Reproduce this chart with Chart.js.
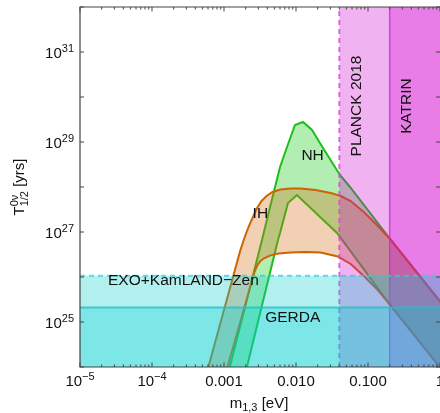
<!DOCTYPE html>
<html>
<head>
<meta charset="utf-8">
<script src="https://cdn.jsdelivr.net/npm/chart.js@4/dist/chart.umd.min.js"></script>
<style>
  html, body { margin: 0; padding: 0; background: #fff; }
</style>
</head>
<body>
<canvas id="chart" width="440" height="413"></canvas>
<script>
// lightest neutrino mass m_1,3 [eV] and half-life [yrs] along the band edges
var nhUpperMass = [1.12e-3, 3.37e-3, 4.36e-3, 6.0e-3, 7.5e-3, 9.68e-3, 1.25e-2, 1.67e-2, 2.15e-2, 4.08e-2, 5.62e-2, 0.208, 1.122];
var nhUpperLife = [6.31e23, 6.64e26, 3.60e27, 2.78e28, 7.74e28, 2.39e29, 2.78e29, 1.85e29, 9.51e28, 1.85e28, 1.0e28, 6.64e26, 2.28e25];
var nhLowerMass = [1.94e-3, 5.62e-3, 6.0e-3, 7.74e-3, 1.03e-2, 3.71e-2, 0.208, 1.122];
var nhLowerLife = [6.31e23, 6.64e26, 9.51e26, 4.41e27, 6.64e27, 9.51e26, 2.27e25, 7.8e23];

var ihUpperMass = [5.61e-4, 1.69e-3, 1.92e-3, 2.19e-3, 2.49e-3, 2.83e-3, 3.32e-3, 3.90e-3, 4.72e-3, 6.11e-3, 8.41e-3, 1.16e-2,
    1.88e-2, 3.03e-2, 4.18e-2, 5.75e-2, 8.74e-2, 0.137, 0.208, 1.122];
var ihUpperLife = [6.31e23, 3.98e26, 7.36e26, 1.29e27, 2.05e27, 3.24e27, 4.89e27, 6.31e27, 7.74e27, 8.80e27, 9.27e27, 9.27e27,
    8.58e27, 7.36e27, 6.31e27, 4.89e27, 2.78e27, 1.36e27, 6.64e26, 2.28e25];
var ihLowerMass = [1.03e-3, 2.65e-3, 2.92e-3, 3.21e-3, 3.66e-3, 4.43e-3, 5.72e-3, 8.41e-3, 1.36e-2, 2.20e-2, 3.80e-2, 5.75e-2,
    8.74e-2, 0.137, 0.208, 1.122];
var ihLowerLife = [6.31e23, 1.29e26, 1.85e26, 2.27e26, 2.64e26, 3.03e26, 3.33e26, 3.50e26, 3.60e26, 3.50e26, 2.86e26, 1.95e26,
    1.05e26, 5.14e25, 2.27e25, 7.8e23];

// experimental bounds
var massLimits = [0.04, 0.2];         // Planck 2018, KATRIN [eV]
var lifeLimits = [1.07e26, 2.1e25];   // EXO+KamLAND-Zen, GERDA [yrs]

// axes
var xRange = [1e-5, 1];
var yRange = [1e24, 1e32];
var xTickValues = [1e-5, 1e-4, 1e-3, 1e-2, 1e-1, 1];
var xTickText = ['10^\u22125', '10^\u22124', '0.001', '0.010', '0.100', '1'];
var yTickValues = [1e25, 1e27, 1e29, 1e31];
var yTickText = ['10^25', '10^27', '10^29', '10^31'];

var fam = '"Liberation Sans", Arial, Helvetica, sans-serif';
var FLOOR = 1e23, ROOF = 1e33, FAR_L = 1e-6, FAR_R = 10;

function pts(ms, ts) {
    return ms.map(function (m, i) { return {x: m, y: ts[i]}; });
}

// closed outline: upper edge, then lower edge back, then a corner below the plot
function band(um, ut, lm, lt) {
    var p = pts(um, ut).concat(pts(lm, lt).reverse());
    p.push({x: FAR_R, y: FLOOR});
    return p;
}

function font(px) { return px + 'px ' + fam; }

function drawRich(ctx, text, x, y, align, size, supSize) {
    var parts = text.split('^');
    ctx.font = font(size);
    var w0 = ctx.measureText(parts[0]).width;
    var w1 = 0;
    if (parts[1]) { ctx.font = font(supSize); w1 = ctx.measureText(parts[1]).width; }
    var w = w0 + w1;
    var sx = align === 'right' ? x - w : (align === 'center' ? x - w / 2 : x);
    ctx.textAlign = 'left';
    ctx.textBaseline = 'alphabetic';
    ctx.font = font(size);
    ctx.fillText(parts[0], sx, y);
    if (parts[1]) {
        ctx.font = font(supSize);
        ctx.fillText(parts[1], sx + w0, y - 6);
    }
}

var notes = [
    {text: 'NH', m: 0.017, t: 4.9e28, align: 'center'},
    {text: 'IH', m: 3.2e-3, t: 2.5e27, align: 'center'},
    {text: 'EXO+KamLAND\u2212Zen', m: 2.45e-5, t: 8.1e25, align: 'left'},
    {text: 'GERDA', m: 9.0e-3, t: 1.23e25, align: 'center'},
    {text: 'PLANCK 2018', m: 0.0698, t: 6.3e29, align: 'center', rotate: true},
    {text: 'KATRIN', m: 0.347, t: 6.3e29, align: 'center', rotate: true}
];

var decorations = {
    id: 'decorations',
    afterDraw: function (chart) {
        var ctx = chart.ctx, a = chart.chartArea;
        var xs = chart.scales.x, ys = chart.scales.y;
        ctx.save();
        ctx.fillStyle = '#111';

        // text inside the plot
        notes.forEach(function (n) {
            var px = xs.getPixelForValue(n.m), py = ys.getPixelForValue(n.t);
            ctx.save();
            ctx.font = font(15.5);
            ctx.textBaseline = 'middle';
            ctx.textAlign = n.align;
            ctx.translate(px, py);
            if (n.rotate) ctx.rotate(-Math.PI / 2);
            ctx.fillText(n.text, 0, 0);
            ctx.restore();
        });

        // frame (right edge sits on the canvas border)
        ctx.strokeStyle = '#444';
        ctx.lineWidth = 1.2;
        ctx.beginPath();
        ctx.moveTo(a.right + 2, a.top);
        ctx.lineTo(a.left, a.top);
        ctx.lineTo(a.left, a.bottom);
        ctx.lineTo(a.right + 2, a.bottom);
        ctx.stroke();

        // inward ticks
        ctx.lineWidth = 1;
        ctx.beginPath();
        for (var e = -5; e <= 0; e++) {
            for (var k = 1; k <= 9; k++) {
                var v = k * Math.pow(10, e);
                if (v > 1.0001) break;
                var tx = xs.getPixelForValue(v);
                var len = k === 1 ? 4.5 : 2.5;
                ctx.moveTo(tx, a.bottom); ctx.lineTo(tx, a.bottom - len);
                ctx.moveTo(tx, a.top); ctx.lineTo(tx, a.top + len);
            }
        }
        for (var ey = 24; ey <= 32; ey++) {
            var ty = ys.getPixelForValue(Math.pow(10, ey));
            ctx.moveTo(a.left, ty); ctx.lineTo(a.left + 4, ty);
            ctx.moveTo(a.right, ty); ctx.lineTo(a.right - 4, ty);
        }
        ctx.stroke();

        // tick labels
        ctx.fillStyle = '#111';
        xTickValues.forEach(function (v, i) {
            drawRich(ctx, xTickText[i], xs.getPixelForValue(v), a.bottom + 19, 'center', 15, 11);
        });
        yTickValues.forEach(function (v, i) {
            drawRich(ctx, yTickText[i], a.left - 6, ys.getPixelForValue(v) + 6, 'right', 15, 11);
        });

        // x title: m_1,3 [eV]
        ctx.font = font(15);
        var wm = ctx.measureText('m').width, we = ctx.measureText(' [eV]').width;
        ctx.font = font(11);
        var ws = ctx.measureText('1,3').width;
        var x0 = 259 - (wm + ws + we) / 2, yb = 408;
        ctx.textAlign = 'left';
        ctx.textBaseline = 'alphabetic';
        ctx.font = font(15); ctx.fillText('m', x0, yb);
        ctx.font = font(11); ctx.fillText('1,3', x0 + wm, yb + 3);
        ctx.font = font(15); ctx.fillText(' [eV]', x0 + wm + ws, yb);

        // y title: T^0nu_1/2 [yrs]
        ctx.save();
        ctx.translate(24, (a.top + a.bottom) / 2);
        ctx.rotate(-Math.PI / 2);
        ctx.font = font(15);
        var wt = ctx.measureText('T').width, wr = ctx.measureText(' [yrs]').width;
        ctx.font = font(11);
        var wsub = Math.max(ctx.measureText('0\u03bd').width, ctx.measureText('1/2').width);
        var s0 = -(wt + wsub + wr) / 2;
        ctx.font = font(15); ctx.fillText('T', s0, 0);
        ctx.font = font(11);
        ctx.fillText('0\u03bd', s0 + wt, -6);
        ctx.fillText('1/2', s0 + wt, 4);
        ctx.font = font(15); ctx.fillText(' [yrs]', s0 + wt + wsub, 0);
        ctx.restore();

        ctx.restore();
    }
};

var ctx = document.getElementById('chart').getContext('2d');
var chart = new Chart(ctx, {
    type: 'line',
    data: {
        datasets: [
            {
                label: 'NH',
                data: band(nhUpperMass, nhUpperLife, nhLowerMass, nhLowerLife),
                fill: 'shape',
                backgroundColor: 'rgba(0,200,0,0.30)',
                borderColor: '#1cbf1c',
                borderWidth: 2,
                order: 6
            },
            {
                label: 'IH',
                data: band(ihUpperMass, ihUpperLife, ihLowerMass, ihLowerLife),
                fill: 'shape',
                backgroundColor: 'rgba(210,110,20,0.32)',
                borderColor: '#cc6400',
                borderWidth: 2,
                order: 5
            },
            {
                label: 'PLANCK 2018',
                data: [{x: massLimits[0], y: FLOOR}, {x: massLimits[0], y: ROOF}, {x: FAR_R, y: ROOF}, {x: FAR_R, y: FLOOR}],
                fill: 'shape',
                backgroundColor: 'rgba(210,0,210,0.30)',
                borderColor: 'rgba(215,70,215,0.8)',
                borderDash: [5, 4],
                borderWidth: 2,
                order: 4
            },
            {
                label: 'KATRIN',
                data: [{x: massLimits[1], y: FLOOR}, {x: massLimits[1], y: ROOF}, {x: FAR_R, y: ROOF}, {x: FAR_R, y: FLOOR}],
                fill: 'shape',
                backgroundColor: 'rgba(210,0,210,0.30)',
                borderColor: 'rgba(210,40,210,0.8)',
                borderWidth: 1.5,
                order: 3
            },
            {
                label: 'EXO+KamLAND-Zen',
                data: [{x: FAR_L, y: FLOOR}, {x: FAR_L, y: lifeLimits[0]}, {x: FAR_R, y: lifeLimits[0]}, {x: FAR_R, y: FLOOR}],
                fill: 'shape',
                backgroundColor: 'rgba(0,205,205,0.30)',
                borderColor: 'rgba(60,200,210,0.75)',
                borderDash: [5, 4],
                borderWidth: 2,
                order: 2
            },
            {
                label: 'GERDA',
                data: [{x: FAR_L, y: FLOOR}, {x: FAR_L, y: lifeLimits[1]}, {x: FAR_R, y: lifeLimits[1]}, {x: FAR_R, y: FLOOR}],
                fill: 'shape',
                backgroundColor: 'rgba(0,205,205,0.30)',
                borderColor: 'rgba(40,190,200,0.8)',
                borderWidth: 2,
                order: 1
            }
        ]
    },
    options: {
        responsive: false,
        animation: false,
        layout: {padding: {left: 80, top: 7, right: 0, bottom: 46}},
        elements: {point: {radius: 0, hoverRadius: 0}, line: {tension: 0}},
        scales: {
            x: {type: 'logarithmic', min: xRange[0], max: xRange[1], display: false},
            y: {type: 'logarithmic', min: yRange[0], max: yRange[1], display: false}
        },
        plugins: {
            legend: {display: false},
            tooltip: {enabled: false}
        }
    },
    plugins: [decorations]
});
</script>
</body>
</html>
